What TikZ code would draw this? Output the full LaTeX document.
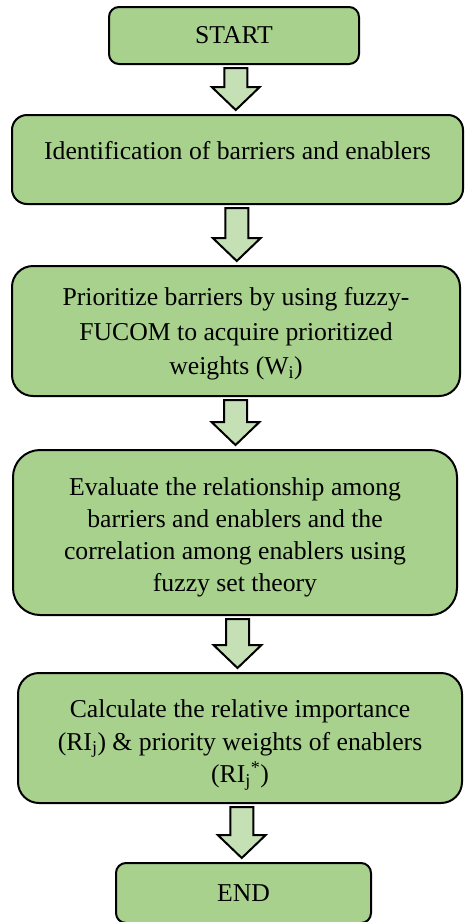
\documentclass[tikz,border=0pt]{standalone}
\usepackage{fontspec}
\setmainfont{Liberation Serif}
\usetikzlibrary{calc}
\definecolor{boxgreen}{HTML}{A9D18E}
\definecolor{arrowgreen}{HTML}{C5E0B4}
% text block of a step, moved up or down inside its box
\newcommand{\steptext}[2]{\raisebox{#1}[\height][\depth]{\begin{tabular}{@{}c@{}}#2\end{tabular}}}
\tikzset{
  stepbox/.style={draw=black, line width=2pt, fill=boxgreen, align=center,
    inner sep=0pt, font=\fontsize{25.7}{33}\selectfont},
  blockarrow/.style={draw=black, line width=2pt, fill=arrowgreen, line join=miter,
    to path={let \p1=(\tikztostart.south), \p2=(\tikztotarget.north),
      \p3=($(\p1)!0.5!(\p2)$) in
      ({\x3-11.5},{\y1-3}) -- ({\x3+11.5},{\y1-3}) -- ({\x3+11.5},{\y2+27})
      -- ({\x3+24},{\y2+27}) -- ({\x3},{\y2+4}) -- ({\x3-24},{\y2+27})
      -- ({\x3-11.5},{\y2+27}) -- cycle}}
}
\begin{document}
\begin{tikzpicture}[x=1pt,y=-1pt]
  \useasboundingbox (0,0) rectangle (464,922);
  \node[stepbox, rounded corners=10, minimum width=250, minimum height=57]
    (start) at (234,35.5) {START};
  \node[stepbox, rounded corners=15, minimum width=451, minimum height=89]
    (ident) at (237.5,159.5) {\steptext{6.5pt}{Identification of barriers and enablers}};
  \node[stepbox, rounded corners=21, minimum width=448, minimum height=130,
    font=\fontsize{25.7}{34.5}\selectfont]
    (prior) at (236,331) {\steptext{-2.5pt}{Prioritize barriers by using fuzzy-\\FUCOM to acquire prioritized\\weights (W\textsubscript{i})}};
  \node[stepbox, rounded corners=27, minimum width=444, minimum height=165,
    font=\fontsize{25.7}{32}\selectfont]
    (eval) at (235,532.5) {\steptext{-5pt}{Evaluate the relationship among\\barriers and enablers and the\\correlation among enablers using\\fuzzy set theory}};
  \node[stepbox, rounded corners=21, minimum width=444, minimum height=130,
    font=\fontsize{25.7}{32.5}\selectfont]
    (calc) at (240,738) {\steptext{-5.5pt}{Calculate the relative importance\\(RI\textsubscript{j}) \& priority weights of enablers\\(RI\textsubscript{j}\textsuperscript{*})}};
  \node[stepbox, rounded corners=10, minimum width=255, minimum height=60]
    (finish) at (243.5,893) {END};
  % arrows between the steps
  \draw[blockarrow] (start) to (ident);
  \draw[blockarrow] (ident) to (prior);
  \draw[blockarrow] (prior) to (eval);
  \draw[blockarrow] (eval) to (calc);
  \draw[blockarrow] (calc) to (finish);
\end{tikzpicture}
\end{document}
